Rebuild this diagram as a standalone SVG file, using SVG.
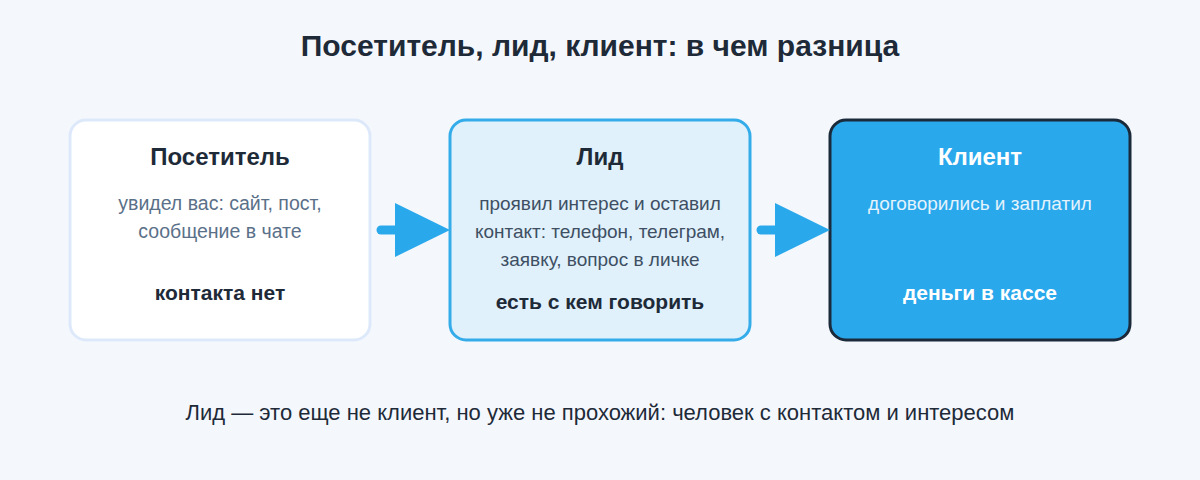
<svg xmlns="http://www.w3.org/2000/svg" width="1200" height="480" viewBox="0 0 1200 480">
<style>
text{font-family:"Liberation Sans",Arial,sans-serif;text-anchor:middle}
.t{font-size:24px;font-weight:bold;fill:#1e2a38}
.d{font-size:19.5px;fill:#5a7089}
.d2{font-size:19px;fill:#3e4f63}
.b{font-size:21px;font-weight:bold;fill:#1e2a38}
</style>
<rect width="1200" height="480" fill="#f4f8fd"/>
<text x="600" y="56" style="font-size:30px;font-weight:bold;fill:#1e2a38">Посетитель, лид, клиент: в чем разница</text>
<g id="visitor">
<rect x="70" y="120" width="300" height="220" rx="16" fill="#ffffff" stroke="#dde9fa" stroke-width="3"/>
<text class="t" x="220" y="165">Посетитель</text>
<text class="d" x="220" y="210">увидел вас: сайт, пост,</text>
<text class="d" x="220" y="238">сообщение в чате</text>
<text class="b" x="220" y="300">контакта нет</text>
</g>
<g id="lead">
<rect x="450" y="120" width="300" height="220" rx="16" fill="#e0f1fb" stroke="#34acea" stroke-width="3"/>
<text class="t" x="600" y="165">Лид</text>
<text class="d2" x="600" y="210">проявил интерес и оставил</text>
<text class="d2" x="600" y="238">контакт: телефон, телеграм,</text>
<text class="d2" x="600" y="266">заявку, вопрос в личке</text>
<text class="b" x="600" y="309">есть с кем говорить</text>
</g>
<g id="client">
<rect x="830" y="120" width="300" height="220" rx="16" fill="#2aa8ec" stroke="#1b2a3a" stroke-width="3"/>
<text class="t" x="980" y="165" style="fill:#ffffff">Клиент</text>
<text x="980" y="210" style="font-size:19px;fill:#e4f3fc">договорились и заплатил</text>
<text class="b" x="980" y="300" style="fill:#ffffff">деньги в кассе</text>
</g>
<g id="connectors" fill="#2aa8ec" stroke="#2aa8ec">
<line x1="381" y1="230" x2="400" y2="230" stroke-width="9" stroke-linecap="round"/>
<polygon points="395,203 450,230 395,257" stroke="none"/>
<line x1="761" y1="230" x2="780" y2="230" stroke-width="9" stroke-linecap="round"/>
<polygon points="775,203 830,230 775,257" stroke="none"/>
</g>
<text x="600" y="420" style="font-size:22px;fill:#1e2a38">Лид — это еще не клиент, но уже не прохожий: человек с контактом и интересом</text>
</svg>
